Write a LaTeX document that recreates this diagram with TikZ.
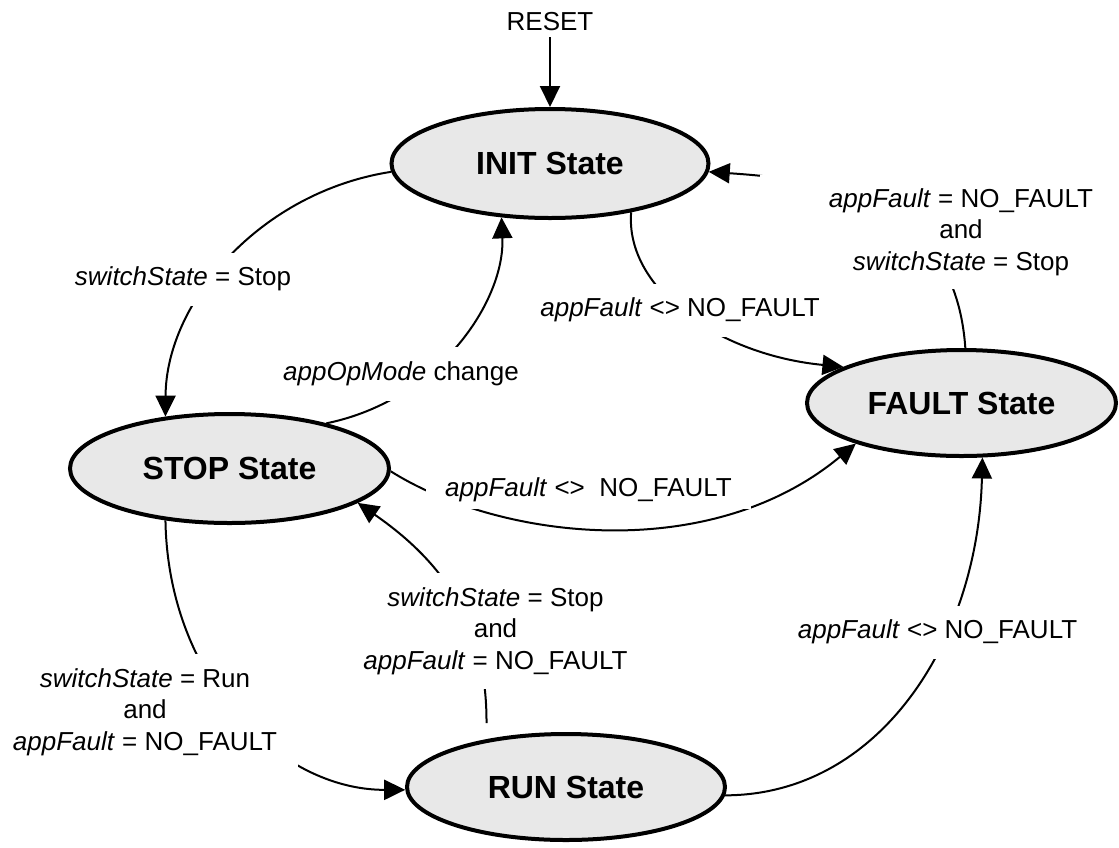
\documentclass[tikz,border=0pt]{standalone}
\usepackage{fontspec}
\setmainfont{Liberation Sans}
\usetikzlibrary{shapes.geometric,arrows.meta}
\definecolor{stfill}{RGB}{232,232,232}
\newcommand{\myit}[1]{\textit{#1}}
\begin{document}
\begin{tikzpicture}[x=0.5pt,y=-0.5pt,
  state/.style={ellipse,draw=black,line width=2pt,fill=stfill,inner sep=0pt,
    font=\fontsize{16}{19}\selectfont\bfseries},
  trans/.style={line width=1pt,-{Triangle[length=10.5pt,width=10pt]}},
  lbl/.style={fill=white,inner xsep=1pt,inner ysep=0pt,align=center,
    font=\fontsize{13}{15.75}\selectfont},
]
\useasboundingbox (0,0) rectangle (1119,847);

% states
\node[state,minimum width=158.5pt,minimum height=54.5pt] (init)  at (550,163.5) {INIT State};
\node[state,minimum width=159.5pt,minimum height=54.5pt] (stop)  at (229.5,468.5) {STOP State};
\node[state,minimum width=154.5pt,minimum height=53pt]   (fault) at (961.5,403) {FAULT State};
\node[state,minimum width=159pt,minimum height=53pt]     (run)   at (566,787) {RUN State};
\node[font=\fontsize{13}{15.75}\selectfont,inner sep=3pt] (reset) at (550,21.5) {RESET};

% transitions
\draw[trans] (reset.south) -- (init.north);
\draw[trans] (init.183) .. controls (260,192) and (166,302) .. (stop.141);
\draw[trans] (stop.25) .. controls (440,400) and (505,300) .. (init.228);
\draw[trans] (init.-31) .. controls (625,290) and (720,355) .. (fault.163);
\draw[trans] (fault.86) .. controls (955,200) and (830,180) .. (init.-3);
\draw[trans] (stop.-1) .. controls (500,540) and (710,565) .. (fault.201);
\draw[trans] (stop.219) .. controls (168,680) and (280,790) .. (run.181);
\draw[trans,shorten <=8pt] (run.149) .. controls (487,620) and (440,560) .. (stop.-15);
\draw[trans] (run.-3) .. controls (880,795) and (978,640) .. (fault.-69);

% labels
\node[lbl,minimum height=26.5pt] (lA) at (183,279) {\myit{switchState} = Stop};
\node[lbl,minimum height=27pt] (lB) at (401,374) {\myit{appOpMode} change};
\node[lbl,minimum height=26.5pt] (lC) at (680,310) {\myit{appFault} <> NO\_FAULT};
\node[lbl,minimum height=57pt,minimum width=201pt] (lD) at (961,232)
  {\myit{appFault} = NO\_FAULT\\and\\\myit{switchState} = Stop};
\node[lbl,minimum height=19pt,minimum width=162.5pt] (lE) at (588.5,490)
  {\myit{appFault} <>~~NO\_FAULT};
\node[lbl,minimum height=58pt,minimum width=153pt] (lF) at (145,712)
  {\myit{switchState} = Run\\and\\\myit{appFault} = NO\_FAULT};
\node[lbl,minimum height=58pt] (lG) at (495.5,631)
  {\myit{switchState} = Stop\\and\\\myit{appFault} = NO\_FAULT};
\node[lbl,minimum height=26.5pt] (lH) at (937.5,632) {\myit{appFault} <> NO\_FAULT};
\end{tikzpicture}
\end{document}
